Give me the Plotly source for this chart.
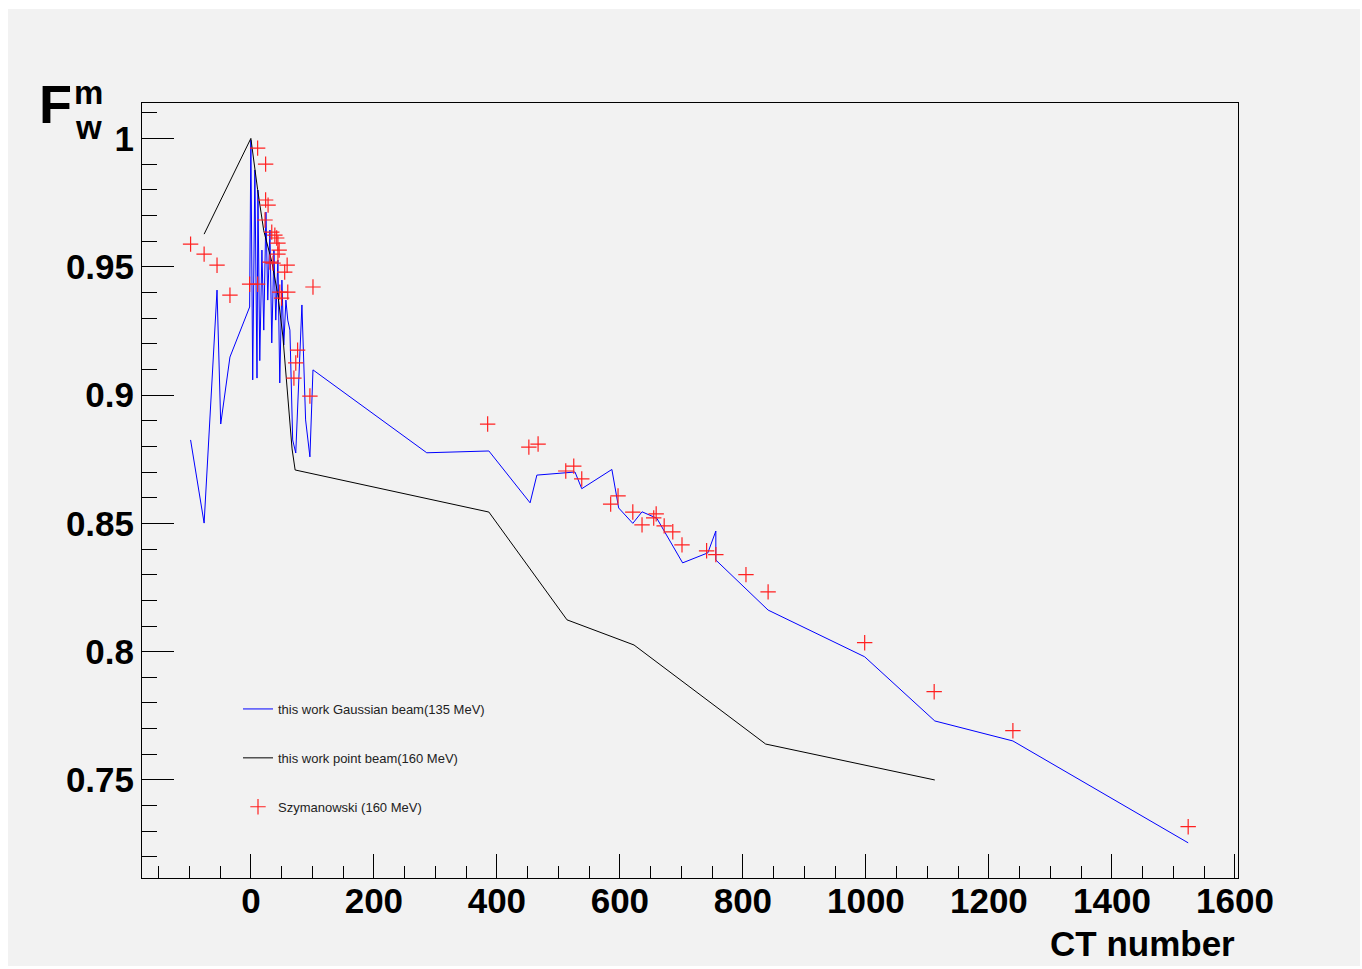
import plotly.graph_objects as go

# ---- data ----
gauss_x = [-98, -76, -55, -49, -34, -2, 0, 3, 6.5, 10, 11.5, 14.5, 18, 21, 24.5, 27.5, 31, 34, 37.5, 40.5,
           44, 47, 50.5, 53.5, 57, 60, 63.5, 68, 73, 83, 89, 96, 101,
           286, 387, 454, 465, 527, 538, 587, 598, 621, 636, 660, 702, 743, 756, 756, 841, 998, 1112, 1239, 1524]
gauss_y = [0.8825, 0.8501, 0.9409, 0.8887, 0.9148, 0.9343, 0.9993, 0.9059, 0.9877, 0.9066, 0.9799, 0.9134,
           0.9565, 0.9253, 0.9713, 0.9370, 0.9643, 0.9203, 0.9565, 0.9292, 0.9526, 0.9047, 0.9448, 0.9195,
           0.9370, 0.9292, 0.9253, 0.8825, 0.8774, 0.9351, 0.8903, 0.8759, 0.9098,
           0.8775, 0.8782, 0.8580, 0.8688, 0.8700, 0.8635, 0.8710, 0.8560, 0.8500, 0.8545, 0.8520, 0.8346,
           0.8385, 0.8470, 0.8357, 0.8162, 0.7980, 0.7730, 0.7652, 0.7255]

point_x = [-76, 0, 11, 21, 34, 44, 52, 60, 67, 72, 387, 514, 623, 837, 1112]
point_y = [0.9627, 1.0, 0.980, 0.964, 0.952, 0.939, 0.923, 0.898, 0.879, 0.8708, 0.8544, 0.8124, 0.8026, 0.764, 0.750]

szym_x = [-98, -76, -55, -34, -2, 11, 11, 24, 24, 28, 23, 34, 39, 42, 44, 46, 44, 31, 36, 59, 55, 47, 60, 50,
          76, 73, 70, 96, 101, 385, 452, 467, 512, 525, 538, 585, 597, 621, 636, 655, 659, 672, 686, 701,
          741, 756, 805, 841, 998, 1111, 1239, 1524]
szym_y = [0.9588, 0.9549, 0.9506, 0.9389, 0.9432, 0.9432, 0.9962, 0.9900, 0.9760, 0.9740, 0.9682, 0.9635,
          0.9623, 0.9612, 0.9592, 0.9565, 0.9549, 0.9518, 0.9514, 0.9506, 0.9479, 0.9401, 0.9401, 0.9378,
          0.9175, 0.9125, 0.9066, 0.8996, 0.9421, 0.8887, 0.8797, 0.8809, 0.8704, 0.8723, 0.8673, 0.8575,
          0.8607, 0.8544, 0.8494, 0.8521, 0.8537, 0.8490, 0.8467, 0.8416, 0.8393, 0.8378, 0.8300, 0.8233,
          0.8035, 0.7844, 0.7692, 0.7318]

names = ["this work Gaussian beam(135 MeV)", "this work point beam(160 MeV)", "Szymanowski (160 MeV)"]

# ---- layout geometry ----
W, H = 1362, 969
L, R, T, B = 142, 1238, 103, 878
PW, PH = R - L, B - T


def px(x):
    return (x - L) / PW


def py(y):
    return (B - y) / PH


fig = go.Figure()
fig.add_trace(go.Scatter(x=gauss_x, y=gauss_y, mode="lines", name=names[0],
                         line=dict(color="#0000ff", width=1), legendgroup="a"))
fig.add_trace(go.Scatter(x=point_x, y=point_y, mode="lines", name=names[1],
                         line=dict(color="#000000", width=1), legendgroup="b"))
fig.add_trace(go.Scatter(x=szym_x, y=szym_y, mode="markers", name=names[2],
                         marker=dict(symbol="cross-thin", size=11, color="#ff0000",
                                     line=dict(color="#ff2020", width=1.2)), legendgroup="c"))

FAM = "Liberation Sans, Arial, sans-serif"
tickfont = dict(family=FAM, size=35, color="black", weight="bold")

fig.update_layout(
    width=W, height=H,
    margin=dict(l=L, r=W - R, t=T, b=H - B, pad=0),
    paper_bgcolor="white",
    plot_bgcolor="#f2f2f2",
    showlegend=True,
    legend=dict(x=px(238), y=py(694), xanchor="left", yanchor="top",
                bgcolor="rgba(0,0,0,0)", font=dict(family=FAM, size=13, color="#222"),
                tracegroupgap=29, itemwidth=30),
    xaxis=dict(range=[-177, 1605], tick0=0, dtick=200, ticks="inside", ticklen=24, tickwidth=1,
               tickcolor="black", showline=True, linecolor="black", linewidth=1, mirror=True,
               showgrid=False, zeroline=False, tickfont=tickfont, ticklabelstandoff=-8,
               minor=dict(ticks="inside", ticklen=12, dtick=50, tick0=0, tickcolor="black", showgrid=False)),
    yaxis=dict(range=[0.7118, 1.0138], tick0=0.75, dtick=0.05, ticks="inside", ticklen=32, tickwidth=1,
               tickcolor="black", showline=True, linecolor="black", linewidth=1, mirror=True,
               showgrid=False, zeroline=False, tickfont=tickfont,
               minor=dict(ticks="inside", ticklen=15, dtick=0.01, tick0=0.75, tickcolor="black", showgrid=False)),
    shapes=[dict(type="rect", xref="paper", yref="paper", layer="below",
                 x0=px(8), x1=px(1360), y0=py(966), y1=py(9),
                 fillcolor="#f2f2f2", line=dict(width=0))],
    annotations=[
        dict(text="CT number", xref="paper", yref="paper", x=px(1237), y=py(943), xanchor="right",
             yanchor="middle", showarrow=False,
             font=dict(family=FAM, size=35, color="black", weight="bold")),
        dict(text="F", xref="paper", yref="paper", x=px(73), y=py(104), xanchor="right",
             yanchor="middle", showarrow=False, borderpad=0,
             font=dict(family=FAM, size=54, color="black", weight="bold")),
        dict(text="m", xref="paper", yref="paper", x=px(73), y=py(92), xanchor="left",
             yanchor="middle", showarrow=False, borderpad=0,
             font=dict(family=FAM, size=33, color="black", weight="bold")),
        dict(text="w", xref="paper", yref="paper", x=px(74), y=py(128), xanchor="left",
             yanchor="middle", showarrow=False, borderpad=0,
             font=dict(family=FAM, size=33, color="black", weight="bold")),
    ],
)

fig.write_html("out.html")
